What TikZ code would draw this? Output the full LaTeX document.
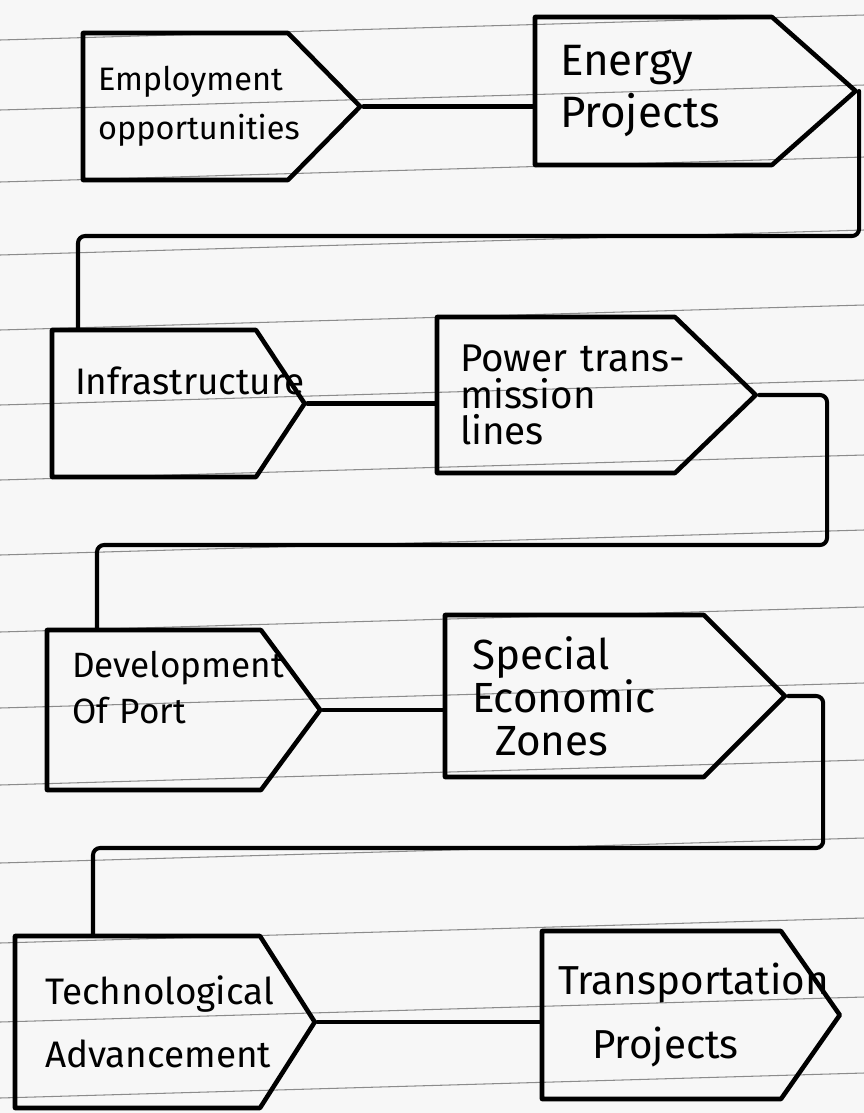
\documentclass[tikz,border=0pt]{standalone}
\usepackage{fontspec}
\setmainfont{Fira Sans}
\usetikzlibrary{calc,shapes}
\tikzset{
flow/.style={x=0.02cm,y=-0.02cm,line join=round,line cap=round},
stage/.style={signal,signal to=east,signal from=nowhere,draw,line width=2.6pt,
align=left,inner ysep=0pt,font=\fontsize{20}{26}\selectfont,
signal pointer angle=#1},
stage/.default={90},
link/.style={line width=2.3pt,rounded corners=4pt},
rule/.style={black!45,line width=0.6pt},
}

\begin{document}
\begin{tikzpicture}[flow]
\useasboundingbox (0,0) rectangle (864,1113);
\fill[black!3] (0,0) rectangle (864,1113);
% ruled paper
\foreach \y in {40,110,182,255,330,405,480,555,632,708,785,863,943,1022,1098}
  \draw[rule] (0,\y) -- (864,\y-25);

\node[stage=91,text width=3.5cm,inner xsep=0.3cm,minimum height=2.94cm,
  font=\fontsize{18.5}{28}\selectfont] (emp) at (185.5,106.5) {Employment\\opportunities};
\node[stage=83,text width=3.74cm,inner xsep=0.5cm,minimum height=2.96cm,
  font=\fontsize{25}{30}\selectfont] (energy) at (653.5,91) {Energy\\Projects};
\node[stage=113,text width=3.16cm,inner xsep=0.46cm,minimum height=2.94cm,
  font=\fontsize{21}{26}\selectfont] (infra) at (154,403.5) {Infrastructure\\\mbox{}};
\node[stage=88,text width=3.84cm,inner xsep=0.46cm,minimum height=3.12cm,
  font=\fontsize{22}{21}\selectfont] (power) at (556,395) {\mbox{Power trans-}\\mission\\lines};
\node[stage=107,text width=3.28cm,inner xsep=0.5cm,minimum height=3.2cm,
  font=\fontsize{20}{26}\selectfont] (devel) at (154,710) {Development\\Of Port\\\mbox{}};
\node[stage=90,text width=4.1cm,inner xsep=0.54cm,minimum height=3.24cm,
  font=\fontsize{24}{24.5}\selectfont] (special) at (574.5,696) {Special\\Economic\\\hspace*{0.46cm}Zones};
\node[stage=115,text width=3.7cm,inner xsep=0.6cm,minimum height=3.44cm,
  font=\fontsize{21}{36}\selectfont] (tech) at (137.5,1022) {Technological\\Advancement};
\node[stage=110,text width=4.14cm,inner xsep=0.32cm,minimum height=3.36cm,
  font=\fontsize{23}{36}\selectfont] (trans) at (661.5,1015) {Transportation\\\hspace*{0.68cm}Projects};

\draw[link] (emp.east) -- (emp.east -| energy.west);
\draw[link] (infra.east) -- (infra.east -| power.west);
\draw[link] (devel.east) -- (devel.east -| special.west);
\draw[link] (tech.east) -- (tech.east -| trans.west);

\coordinate (turn1) at (78,236);
\draw[link] (energy.east) |- (turn1) -- (turn1 |- infra.north);
\coordinate (turn2) at (97,545);
\draw[link] (power.east) -- ++(68,0) |- (turn2) -- (turn2 |- devel.north);
\coordinate (turn3) at (93,848);
\draw[link] (special.east) -- ++(35,0) |- (turn3) -- (turn3 |- tech.north);
\end{tikzpicture}
\end{document}
